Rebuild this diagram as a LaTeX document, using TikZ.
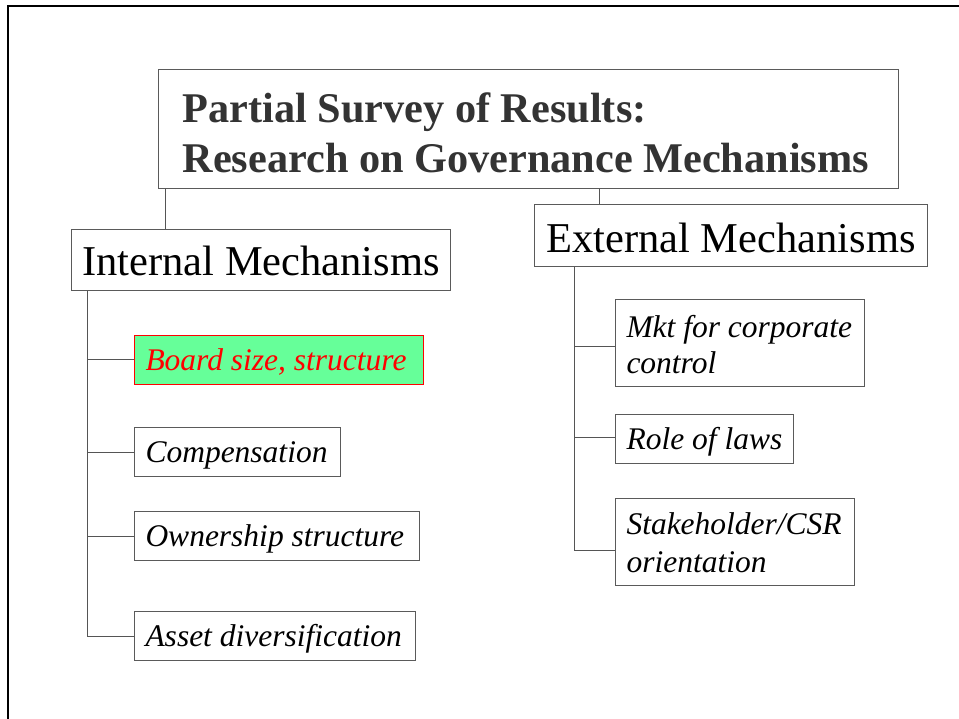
\documentclass[tikz,border=0pt]{standalone}
\usepackage{fontspec}
\setmainfont{Liberation Serif}
\definecolor{boxgray}{HTML}{5A5A5A}
\definecolor{conngray}{HTML}{555555}
\definecolor{titlegray}{HTML}{333333}
\definecolor{boardgreen}{HTML}{66FF99}
\begin{document}
\begin{tikzpicture}[x=1pt,y=-1pt,
  box/.style={draw=boxgray, line width=1pt, inner sep=0pt, anchor=north west},
  titlebox/.style={box, inner xsep=24pt, inner ysep=0pt, text width=692pt, align=flush left,
    text=titlegray, font=\fontsize{42.3}{50}\selectfont\bfseries},
  head/.style={box, font=\fontsize{42.5}{50}\selectfont},
  leafone/.style={box, inner xsep=11pt, align=flush left, text height=35pt, text depth=14pt,
    font=\fontsize{31.5}{37}\selectfont\itshape},
  leaftwo/.style={box, inner xsep=11pt, align=flush left},
  hilite/.style={fill=boardgreen, draw=red, text=red},
  conn/.style={draw=conngray, line width=1pt}]
\useasboundingbox (0,0) rectangle (959,719);
% slide frame
\draw[line width=2.5pt, black] (8,719) -- (8,6) -- (959,6);
% title
\node[titlebox] (title) at (158,69)
  {\mbox{\rule{0pt}{53pt}Partial Survey of Results:}\\
   \mbox{Research on Governance Mechanisms\rule[-16pt]{0pt}{16pt}}};
% headings
\node[head, minimum width=379pt, text height=46pt, text depth=15pt] (internal) at (71,229) {Internal Mechanisms};
\node[head, minimum width=393pt, text height=48pt, text depth=14pt] (external) at (534,204) {External Mechanisms};
% internal leaves
\node[leafone, hilite, text width=267pt] (board) at (134,335) {\mbox{Board size, structure}};
\node[leafone, text width=184pt] (comp) at (134,427) {\mbox{Compensation}};
\node[leafone, text width=263pt] (own) at (134,511) {\mbox{Ownership structure}};
\node[leafone, text width=259pt] (asset) at (134,611) {\mbox{Asset diversification}};
% external leaves
\node[leaftwo, text width=227pt, font=\fontsize{31.5}{36}\selectfont\itshape] (mkt) at (615,299)
  {\mbox{\rule{0pt}{38pt}Mkt for corporate}\\\mbox{control\rule[-13pt]{0pt}{13pt}}};
\node[leafone, text width=156pt] (laws) at (615,414) {\mbox{Role of laws}};
\node[leaftwo, text width=217pt, font=\fontsize{31.5}{38}\selectfont\itshape] (stake) at (615,498)
  {\mbox{\rule{0pt}{36pt}Stakeholder/CSR}\\\mbox{orientation\rule[-13pt]{0pt}{13pt}}};
% connectors from title
\draw[conn] ([xshift=7pt]title.south west) -- ([xshift=7pt]title.south west |- internal.north);
\draw[conn] ([xshift=65pt]external.north west |- title.south) -- ([xshift=65pt]external.north west);
% internal tree
\coordinate (itrunk) at ([xshift=16pt]internal.south west);
\draw[conn] (itrunk) |- (asset.west);
\draw[conn] (board.west) -- (board.west -| itrunk);
\draw[conn] (comp.west) -- (comp.west -| itrunk);
\draw[conn] (own.west) -- (own.west -| itrunk);
% external tree
\coordinate (etrunk) at ([xshift=40pt]external.south west);
\draw[conn] (etrunk) |- ([yshift=-8.5pt]stake.west);
\draw[conn] ([yshift=-3.5pt]mkt.west) -- ([yshift=-3.5pt]mkt.west -| etrunk);
\draw[conn] ([yshift=2pt]laws.west) -- ([yshift=2pt]laws.west -| etrunk);
\end{tikzpicture}
\end{document}
